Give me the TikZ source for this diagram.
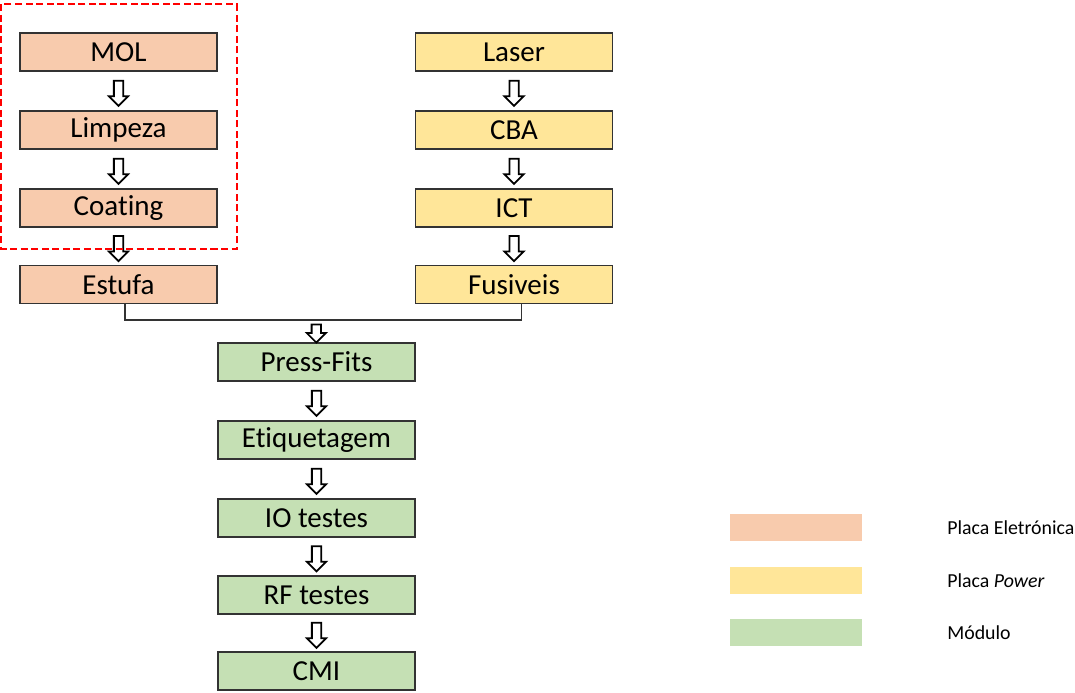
\documentclass[tikz,border=0pt]{standalone}
\usepackage{fontspec}
\setmainfont[Ligatures=NoCommon]{Carlito}
\usetikzlibrary{shapes.arrows}

\definecolor{laranja}{HTML}{F8CBAD}
\definecolor{amarelo}{HTML}{FFE699}
\definecolor{verde}{HTML}{C5E0B4}

\tikzset{
	etapa/.style={draw=black!80, line width=0.7pt, minimum width=3.94cm, minimum height=0.76cm, inner sep=0pt, font=\fontsize{16.5}{20}\selectfont},
	seta/.style={to path={(\tikztostart) -- (\tikztotarget) node [midway, single arrow, draw=black, line width=1pt, fill=white, rotate=-90, inner sep=0.075cm, single arrow head extend=0.1cm, single arrow head indent=0pt, minimum height=#1] {}}},
	seta/.default=0.5cm,
	legenda/.style={minimum width=2.64cm, minimum height=0.54cm, inner sep=0pt},
	rotulo/.style={anchor=west, inner sep=0pt, font=\fontsize{11.3}{14}\selectfont}
}

\begin{document}
\begin{tikzpicture}[x=0.02cm, y=-0.02cm]
	\useasboundingbox (0,0) rectangle (1075,693);

	% placa eletronica
	\node [etapa, fill=laranja] (mol) at (118.5,52) {MOL};
	\node [etapa, fill=laranja] (limpeza) at (118.5,130) {Limpeza};
	\node [etapa, fill=laranja] (coating) at (118.5,208) {Coating};
	\node [etapa, fill=laranja] (estufa) at (118.5,284.5) {Estufa};

	% placa power
	\node [etapa, fill=amarelo] (laser) at (514,52) {Laser};
	\node [etapa, fill=amarelo] (cba) at (514,130) {CBA};
	\node [etapa, fill=amarelo] (ict) at (514,208) {ICT};
	\node [etapa, fill=amarelo] (fusiveis) at (514,284.5) {Fusiveis};

	% modulo
	\node [etapa, fill=verde] (pressfits) at (316.5,362) {Press-Fits};
	\node [etapa, fill=verde] (etiquetagem) at (316.5,440) {Etiquetagem};
	\node [etapa, fill=verde] (io) at (316.5,518) {IO testes};
	\node [etapa, fill=verde] (rf) at (316.5,595) {RF testes};
	\node [etapa, fill=verde] (cmi) at (316.5,671) {CMI};

	\path (mol.south) to [seta] (limpeza.north);
	\path (limpeza.south) to [seta] (coating.north);
	\path (coating.south) to [seta] (estufa.north);

	\path (laser.south) to [seta] (cba.north);
	\path (cba.south) to [seta] (ict.north);
	\path (ict.south) to [seta] (fusiveis.north);

	\coordinate (juncao) at (316,320);
	\draw [black!80, line width=0.6pt] ([xshift=0.13cm]estufa.south) |- (juncao) -| ([xshift=0.15cm]fusiveis.south);
	\path (juncao) to [seta=0.36cm] (pressfits.north);

	\path (pressfits.south) to [seta] (etiquetagem.north);
	\path (etiquetagem.south) to [seta] (io.north);
	\path (io.south) to [seta] (rf.north);
	\path (rf.south) to [seta] (cmi.north);

	% moldura tracejada
	\draw [red, line width=1.1pt, dash pattern=on 4pt off 2pt] ([shift={(-18,-28)}]mol.north west) rectangle ([shift={(19,21)}]coating.south east);

	% legenda
	\node [legenda, fill=laranja] (legeletronica) at (796,527.5) {};
	\node [legenda, fill=amarelo] (legpower) at (796,580.5) {};
	\node [legenda, fill=verde] (legmodulo) at (796,632.5) {};
	\node [rotulo] (txteletronica) at (947,528) {Placa Eletrónica};
	\node [rotulo] (txtpower) at (947,581) {Placa \textit{Power}};
	\node [rotulo] (txtmodulo) at (947,633) {Módulo};
\end{tikzpicture}
\end{document}
